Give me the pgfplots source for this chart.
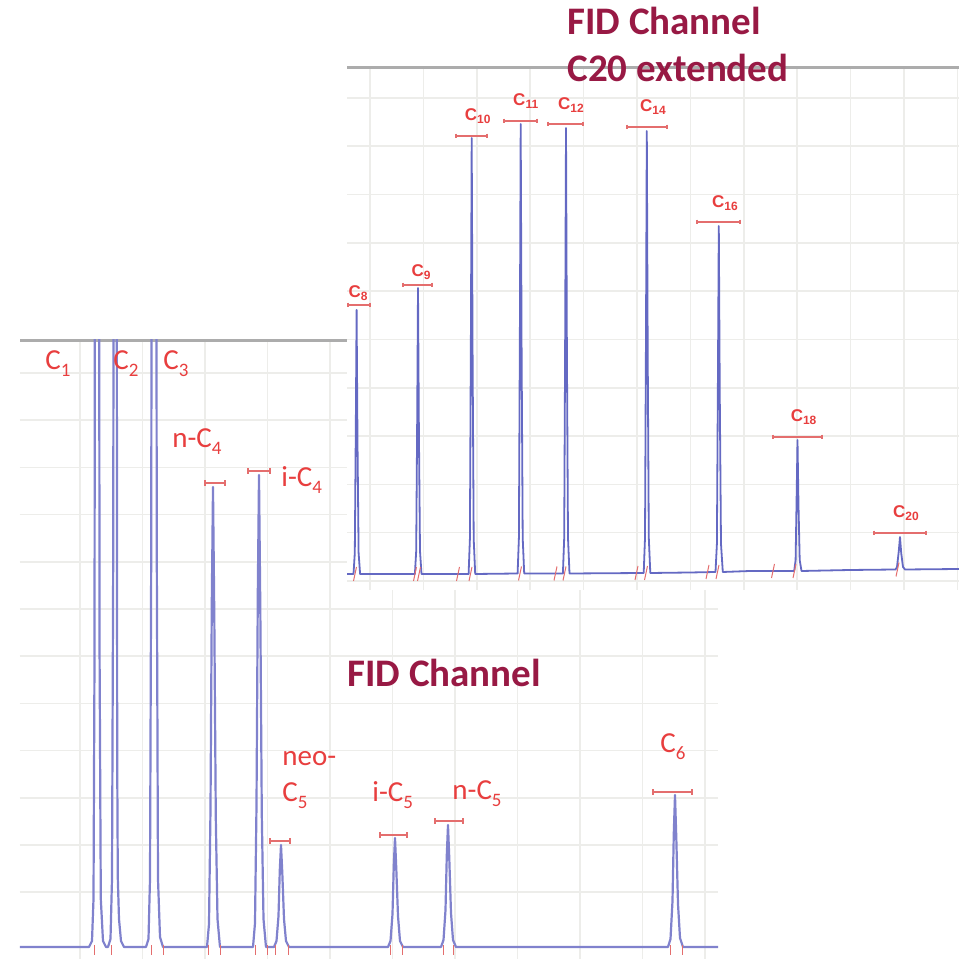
\documentclass[border=0pt]{standalone}
\usepackage{fontspec}
\setmainfont{Carlito}
\newfontfamily\lab{Liberation Sans}
\usepackage{pgfplots}
\pgfplotsset{compat=1.18}
\definecolor{tracelo}{RGB}{128,130,205}
\definecolor{traceup}{RGB}{100,105,195}
\definecolor{labred}{RGB}{232,62,62}
\definecolor{barred}{RGB}{228,110,110}
\definecolor{titlec}{RGB}{152,25,68}
\definecolor{gridc}{RGB}{237,237,234}
\definecolor{framec}{RGB}{172,172,172}
\newcommand\sub[1]{\raisebox{-0.5ex}{\fontsize{9.5}{10}\selectfont #1}}
\newcommand\usub[1]{\raisebox{-0.3ex}{\fontsize{6}{7}\selectfont #1}}
\pgfplotsset{chrom/.style={scale only axis, anchor=south west,
  axis line style={draw=none}, tick style={draw=none},
  xticklabels={}, yticklabels={}, grid=major,
  major grid style={gridc, line width=0.8pt}, clip=true}}
\begin{document}
\begin{tikzpicture}
\path[use as bounding box, fill=white] (0,0) rectangle (479.5pt,479.5pt);
% ---------------- lower chromatogram ----------------
\begin{axis}[chrom, at={(10pt,0pt)}, width=349pt, height=309.5pt,
  xmin=20, xmax=718, ymin=0, ymax=619,
  xtick={80,142.5,...,705}, ytick={66.8,114,...,586}]
\draw[framec, line width=2.5pt] (rel axis cs:0,1) -- (rel axis cs:1,1);
\addplot[tracelo, line width=1.1pt, line join=round] coordinates {
(20,12) (89,12) (92,18) (93.5,60) (94.5,300) (95.2,1000) (98.8,1000) (99.6,300) (100.8,60) (103,18) (106,12)
(108,12) (110.5,20) (112,80) (113.2,400) (114,1000) (116.5,1000) (117.2,200) (117.8,81) (119,40) (121,18) (124,12)
(146,12) (148.5,20) (150,80) (151.2,400) (152,1000) (156,1000) (156.8,400) (158,80) (160,22) (163,12)
(207,12) (209,35) (210.5,150) (211.8,357) (213,472) (214.3,343) (215.8,141) (217.5,40) (220,12)
(253,12) (255,36) (256.5,154) (257.8,366) (259,484) (260.3,352) (261.8,144) (263.5,40) (266,12)
(274,12) (276.5,18) (278.5,43) (279.8,89) (281,114) (282.3,86) (284,40) (286,18) (289,12)
(388,12) (390.5,18) (392.5,45) (393.8,94) (395,121) (396.3,90) (398,43) (400,18) (403,12)
(441,12) (443.5,19) (445.5,49) (446.8,104) (448,134) (449.3,100) (451,46) (453,19) (456,12)
(668,12) (670.5,20) (672.5,58) (673.8,126) (675,164) (676.3,121) (678,55) (680,21) (683,12)
(718,12)};
% integration markers
\addplot[barred, line width=0.5pt, unbounded coords=jump] coordinates {
(95,4) (95,14) (95,nan) (112,4) (112,14) (112,nan) (152,4) (152,14) (152,nan)
(163,4) (163,14) (163,nan) (208,4) (208,14) (208,nan) (220,4) (220,14) (220,nan)
(255,4) (255,14) (255,nan) (267,4) (267,14) (267,nan) (275,4) (275,14) (275,nan)
(288,4) (288,14) (288,nan) (390,4) (390,14) (390,nan) (402,4) (402,14) (402,nan)
(443,4) (443,14) (443,nan) (453,4) (453,14) (453,nan) (670,4) (670,14) (670,nan)
(682,4) (682,14)};
% peak bars
\addplot[barred, line width=0.6pt, mark=|, mark size=1.4pt] coordinates {(205,476) (225,476)};
\addplot[barred, line width=0.6pt, mark=|, mark size=1.4pt] coordinates {(248,488) (270,488)};
\addplot[barred, line width=0.6pt, mark=|, mark size=1.4pt] coordinates {(270,118) (290,118)};
\addplot[barred, line width=0.6pt, mark=|, mark size=1.4pt] coordinates {(380,124) (407,124)};
\addplot[barred, line width=0.6pt, mark=|, mark size=1.4pt] coordinates {(435,138) (463,138)};
\addplot[barred, line width=0.6pt, mark=|, mark size=1.4pt] coordinates {(653,167) (692,167)};
\begin{scope}[every node/.style={anchor=base west, inner sep=0pt, text=labred, font=\fontsize{14.5}{16}\selectfont}]
\node at (axis cs:45,589) {C\sub{1}};
\node at (axis cs:113,589) {C\sub{2}};
\node at (axis cs:163,589) {C\sub{3}};
\node at (axis cs:172,511) {n-C\sub{4}};
\node at (axis cs:281,472) {i-C\sub{4}};
\node at (axis cs:282,193) {neo-};
\node at (axis cs:282,157) {C\sub{5}};
\node at (axis cs:372,157) {i-C\sub{5}};
\node at (axis cs:452,159) {n-C\sub{5}};
\node at (axis cs:660,206) {C\sub{6}};
\end{scope}
\end{axis}
% ---------------- upper chromatogram ----------------
\begin{axis}[chrom, at={(173.5pt,184.5pt)}, width=306pt, height=261.5pt,
  xmin=347, xmax=959, ymin=369, ymax=892,
  axis background/.style={fill=white},
  xtick={370,423.4,...,958}, ytick={378,426.3,...,862}]
\draw[framec, line width=2.5pt] (rel axis cs:0,1) -- (rel axis cs:1,1);
\addplot[traceup, line width=0.9pt, line join=round] coordinates {
(347,385)
(353.5,385) (354.8,406) (355.8,530) (356.6,649) (357.5,517) (358.6,406) (360.1,385)
(414.9,385) (416.2,408) (417.2,542) (418,671) (418.9,528) (420,408) (421.5,385)
(468.6,385) (469.9,420) (470.9,625) (471.7,821) (472.6,603) (473.7,420) (475.2,385)
(517.6,385.5) (518.9,421) (519.9,633) (520.7,835) (521.6,610) (522.7,421) (524.2,385.5)
(562.9,385.5) (564.2,421) (565.2,631) (566,831) (566.9,608) (568,421) (569.5,385.5)
(643.7,386) (645,421) (646,629) (646.8,828) (647.7,607) (648.8,421) (650.3,386)
(690,386.5)
(715.5,387) (716.9,415) (717.9,577) (718.8,733) (719.8,560) (721,415) (722.8,387)
(750,388)
(794.2,388) (795.6,399) (796.6,460) (797.5,519) (798.5,453) (799.7,399) (801.5,388)
(850,389)
(895.5,389.5) (897,392) (898.8,408) (900,422) (901.2,406) (903,392) (905,389.5)
(959,390)};
\addplot[barred, line width=0.5pt, unbounded coords=jump] coordinates {
(353.5,378) (356.5,392) (355,nan) (413.5,378) (416.5,392) (415,nan)
(417.5,378) (420.5,392) (419,nan) (456.5,378) (459.5,392) (458,nan)
(469,378) (472,392) (470,nan) (518.5,378.5) (521.5,392.5) (520,nan)
(554,378.5) (557,392.5) (555,nan) (563,378.5) (566,392.5) (564,nan)
(635,379) (638,393) (636,nan) (644.5,379) (647.5,393) (646,nan)
(706,380) (709,394) (707,nan) (716,380) (719,394) (717,nan)
(771.5,381) (774.5,395) (773,nan) (793,381) (796,395) (794,nan)
(896,382.5) (899,396.5)};
\addplot[barred, line width=0.6pt, mark=|, mark size=1.2pt] coordinates {(348,654) (370,654)};
\addplot[barred, line width=0.6pt, mark=|, mark size=1.2pt] coordinates {(403,674) (432,674)};
\addplot[barred, line width=0.6pt, mark=|, mark size=1.2pt] coordinates {(456,823) (487,823)};
\addplot[barred, line width=0.6pt, mark=|, mark size=1.2pt] coordinates {(504,838) (537,838)};
\addplot[barred, line width=0.6pt, mark=|, mark size=1.2pt] coordinates {(548,835) (583,835)};
\addplot[barred, line width=0.6pt, mark=|, mark size=1.2pt] coordinates {(627,832) (667,832)};
\addplot[barred, line width=0.6pt, mark=|, mark size=1.2pt] coordinates {(697,737) (740,737)};
\addplot[barred, line width=0.6pt, mark=|, mark size=1.2pt] coordinates {(773,522) (822,522)};
\addplot[barred, line width=0.6pt, mark=|, mark size=1.2pt] coordinates {(874,426) (926,426)};
\begin{scope}[every node/.style={anchor=center, inner sep=0pt, text=labred, font=\lab\bfseries\fontsize{8.5}{9}\selectfont}]
\node at (axis cs:358,666) {C\usub{8}};
\node at (axis cs:421,687) {C\usub{9}};
\node at (axis cs:477.7,843) {C\usub{10}};
\node at (axis cs:525.7,858) {C\usub{11}};
\node at (axis cs:571,854) {C\usub{12}};
\node at (axis cs:653,852) {C\usub{14}};
\node at (axis cs:725,756) {C\usub{16}};
\node at (axis cs:803.6,542) {C\usub{18}};
\node at (axis cs:906,446) {C\usub{20}};
\end{scope}
\end{axis}
% ---------------- titles ----------------
\begin{scope}[every node/.style={anchor=base west, inner sep=0pt, text=titlec, font=\bfseries\fontsize{19.5}{23.5}\selectfont}]
\node at (173.5pt,136pt) {FID Channel};
\node at (283.5pt,462pt) {FID Channel};
\node at (283.5pt,438.5pt) {C20 extended};
\end{scope}
\end{tikzpicture}
\end{document}
